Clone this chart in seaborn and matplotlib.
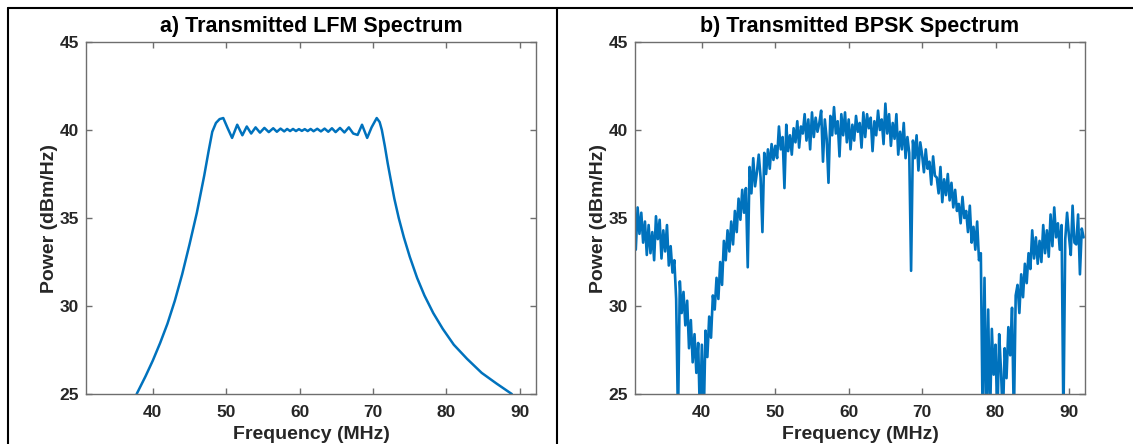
"""
Transmitted LFM and BPSK spectra, two panels side by side.
Saves out.png (1133 x 444).
"""

import numpy as np
import pandas as pd
import matplotlib
matplotlib.use("Agg")
import matplotlib.pyplot as plt
from matplotlib.lines import Line2D
import seaborn as sns


# ---------------------------
# data
# ---------------------------
LFM_FREQ = [
    37.8, 39.0, 40.0, 41.0, 42.0, 43.0, 44.0, 45.0, 46.0, 47.0, 47.6, 48.1,
    48.6, 49.1, 49.6, 50.2, 50.8, 51.5, 52.2, 52.8, 53.4, 54.0, 54.6, 55.2,
    55.8, 56.4, 56.9, 57.4, 57.9, 58.3, 58.7, 59.1, 59.5, 59.9, 60.3, 60.7,
    61.1, 61.5, 61.9, 62.4, 62.9, 63.4, 63.9, 64.4, 64.9, 65.5, 66.1, 66.7,
    67.3, 67.9, 68.5, 69.2, 69.8, 70.5, 70.9, 71.2, 71.6, 72.0, 72.4, 72.9,
    73.5, 74.2, 75.0, 76.0, 77.0, 78.2, 79.5, 81.0, 82.8, 84.8, 86.8, 88.9,
]
LFM_POWER = [
    25.0, 26.0, 26.9, 27.9, 29.0, 30.3, 31.8, 33.5, 35.3, 37.4, 38.8, 39.9,
    40.4, 40.62, 40.68, 40.1, 39.55, 40.3, 39.7, 40.2, 39.8, 40.15, 39.85, 40.12,
    39.88, 40.1, 39.9, 40.08, 39.92, 40.06, 39.94, 40.06, 39.94, 40.05, 39.95, 40.05,
    39.94, 40.06, 39.93, 40.07, 39.92, 40.08, 39.9, 40.1, 39.88, 40.12, 39.86, 40.15,
    39.8, 39.72, 40.3, 39.55, 40.15, 40.68, 40.45, 40.0, 39.1, 38.1, 37.2, 36.1,
    35.0, 33.9, 32.8, 31.6, 30.6, 29.6, 28.7, 27.8, 27.0, 26.2, 25.6, 25.0,
]

# BPSK spectrum sampled every 0.25 MHz from 31 to 92 MHz
BPSK_START, BPSK_STOP, BPSK_STEP = 31.0, 92.0, 0.25
BPSK_POWER = [
    33.2, 35.6, 34.1, 35.3,  # 31
    33.6, 34.8, 32.9, 34.6,  # 32
    33.0, 34.2, 32.6, 35.1,  # 33
    33.8, 34.9, 32.7, 34.3,  # 34
    33.1, 34.6, 32.3, 33.4,  # 35
    31.9, 32.6, 30.4, 23.5,  # 36
    31.4, 29.6, 30.8, 28.9,  # 37
    30.3, 27.6, 29.2, 26.8,  # 38
    28.4, 26.2, 27.9, 23.5,  # 39
    27.8, 23.5, 28.6, 27.1,  # 40
    29.4, 28.2, 30.6, 29.8,  # 41
    31.6, 30.4, 32.5, 31.2,  # 42
    33.7, 32.6, 34.3, 33.1,  # 43
    34.8, 33.5, 35.4, 34.2,  # 44
    36.1, 34.9, 36.6, 35.3,  # 45
    36.7, 32.2, 37.9, 36.4,  # 46
    38.4, 36.8, 37.6, 38.6,  # 47
    37.3, 34.2, 38.7, 37.5,  # 48
    38.9, 37.8, 39.2, 38.3,  # 49
    39.1, 38.4, 40.2, 38.9,  # 50
    39.6, 36.7, 40.3, 38.8,  # 51
    39.7, 38.6, 40.1, 39.3,  # 52
    40.5, 39.0, 40.2, 39.8,  # 53
    40.9, 39.4, 40.6, 38.9,  # 54
    41.0, 39.6, 40.7, 39.9,  # 55
    40.4, 41.1, 38.2, 40.6,  # 56
    39.5, 37.0, 40.8, 39.7,  # 57
    41.3, 39.8, 40.5, 38.5,  # 58
    40.9, 39.7, 41.0, 39.3,  # 59
    40.6, 38.9, 40.3, 39.4,  # 60
    40.8, 39.9, 40.4, 39.0,  # 61
    41.0, 39.6, 40.9, 40.1,  # 62
    40.7, 38.8, 40.5, 39.7,  # 63
    41.1, 40.0, 40.6, 39.2,  # 64
    41.5, 39.8, 40.9, 39.1,  # 65
    40.4, 39.5, 40.9, 38.6,  # 66
    39.9, 38.9, 40.4, 38.4,  # 67
    39.6, 38.7, 32.0, 39.4,  # 68
    38.4, 39.7, 37.7, 39.3,  # 69
    38.6, 37.6, 38.9, 37.8,  # 70
    38.2, 36.9, 38.5, 37.4,  # 71
    37.3, 36.4, 37.9, 35.9,  # 72
    37.2, 36.3, 37.5, 36.0,  # 73
    37.0, 35.6, 36.6, 35.4,  # 74
    35.8, 34.7, 36.2, 35.0,  # 75
    35.4, 34.2, 35.7, 33.6,  # 76
    34.5, 33.2, 34.8, 32.6,  # 77
    33.0, 23.5, 31.6, 23.5,  # 78
    29.8, 23.5, 28.7, 26.1,  # 79
    27.8, 23.5, 28.4, 26.3,  # 80
    23.5, 27.6, 25.9, 28.8,  # 81
    27.2, 29.9, 23.5, 30.6,  # 82
    31.2, 29.6, 31.8, 30.5,  # 83
    32.4, 31.3, 33.0, 32.1,  # 84
    34.3, 32.7, 33.9, 32.4,  # 85
    33.7, 32.5, 34.6, 33.0,  # 86
    34.3, 32.8, 35.2, 33.4,  # 87
    35.6, 33.9, 34.7, 33.2,  # 88
    34.6, 23.5, 33.8, 35.3,  # 89
    34.0, 32.9, 35.7, 33.6,  # 90
    33.5, 35.2, 31.8, 34.4,  # 91
    33.9,                    # 92
]

TITLES = ["a) Transmitted LFM Spectrum", "b) Transmitted BPSK Spectrum"]
X_TICKS = [40, 50, 60, 70, 80, 90]
Y_TICKS = [25, 30, 35, 40, 45]

LINE_COLOR = "#0072BD"
SPINE_COLOR = "#6e6e6e"
TEXT_COLOR = "#262626"


def style_axis(ax, title):
    ax.set_xlim(30.9, 92.2)
    ax.set_ylim(25, 45)
    ax.set_xticks(X_TICKS)
    ax.set_yticks(Y_TICKS)
    ax.tick_params(direction="in", length=4, width=1, color=SPINE_COLOR,
                   top=True, right=True, labelcolor=TEXT_COLOR,
                   labelsize=12.5)
    ax.tick_params(axis="y", pad=5)
    ax.tick_params(axis="x", pad=8)
    for lab in ax.get_xticklabels() + ax.get_yticklabels():
        lab.set_fontweight("bold")
    for sp in ax.spines.values():
        sp.set_visible(True)
        sp.set_color(SPINE_COLOR)
        sp.set_linewidth(1.0)

    ax.set_title(title, fontsize=15.5, fontweight="bold", color="black", pad=7)
    ax.set_xlabel("Frequency (MHz)", fontsize=14, fontweight="bold",
                  color=TEXT_COLOR)
    ax.set_ylabel("Power (dBm/Hz)", fontsize=14, fontweight="bold",
                  color=TEXT_COLOR)
    ax.xaxis.set_label_coords(0.5, -0.092)
    ax.yaxis.set_label_coords(-0.062, 0.5)


def main():
    sns.set_theme(style="ticks")
    plt.rcParams["font.family"] = ["Liberation Sans", "DejaVu Sans"]

    lfm = pd.DataFrame({"freq": LFM_FREQ, "power": LFM_POWER})
    bpsk_freq = np.arange(BPSK_START, BPSK_STOP + BPSK_STEP / 2, BPSK_STEP)
    bpsk = pd.DataFrame({"freq": bpsk_freq, "power": BPSK_POWER})

    fig = plt.figure(figsize=(11.33, 4.44), dpi=100)
    ax_a = fig.add_axes([0.0759, 0.1126, 0.3972, 0.7928])
    ax_b = fig.add_axes([0.5605, 0.1126, 0.3972, 0.7928])

    sns.lineplot(data=lfm, x="freq", y="power", ax=ax_a, color=LINE_COLOR,
                 linewidth=1.8, estimator=None, sort=False)
    sns.lineplot(data=bpsk, x="freq", y="power", ax=ax_b, color=LINE_COLOR,
                 linewidth=1.9, estimator=None, sort=False)

    style_axis(ax_a, TITLES[0])
    style_axis(ax_b, TITLES[1])

    # table-like frame around the two panels
    W, H = 1133, 444
    frame = [((8, 1133), (8, 8)), ((8, 8), (8, 444)), ((557, 557), (8, 444))]
    for xs, ys in frame:
        fig.add_artist(Line2D([x / W for x in xs], [1 - y / H for y in ys],
                              color="black", linewidth=1.5,
                              transform=fig.transFigure))

    fig.savefig("out.png", dpi=100, facecolor="white")
    plt.close(fig)


if __name__ == "__main__":
    main()
